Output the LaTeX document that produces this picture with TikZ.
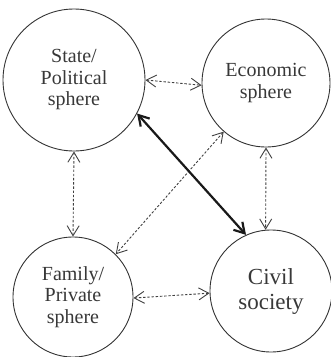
\documentclass[tikz,border=0pt]{standalone}
\usepackage{fontspec}
\setmainfont{Liberation Serif}
\usetikzlibrary{arrows.meta}
\begin{document}
\begin{tikzpicture}[x=1pt,y=-1pt,
  sphere/.style={circle,draw=black!80,line width=0.9pt,inner sep=0pt,
    align=center,text=black!78,font=\fontsize{20}{21.5}\selectfont},
  link/.style={draw=black!75,line width=0.9pt,dash pattern=on 2.4pt off 1.8pt,
    {Straight Barb[length=10pt,width=12pt,line width=0.9pt]}-{Straight Barb[length=10pt,width=12pt,line width=0.9pt]}},
  strong/.style={draw=black!90,line width=2.2pt,
    {Straight Barb[length=10pt,width=12pt]}-{Straight Barb[length=10pt,width=12pt]}}]
  \useasboundingbox (0,0) rectangle (331,357);
  % the four spheres
  \node[sphere,minimum size=142pt] (st) at (74,80) {State/\\Political\\sphere};
  \node[sphere,minimum size=128pt] (ec) at (266,83) {Economic\\sphere};
  \node[sphere,minimum size=120pt] (fa) at (73,297) {Family/\\Private\\sphere};
  \node[sphere,minimum size=122pt,font=\fontsize{23}{25}\selectfont] (cv) at (271,291) {Civil\\society};
  % relations between spheres
  \draw[link] (st.0) -- (ec.182);
  \draw[link] (st.-90) -- (fa.90);
  \draw[link] (ec.-90) -- (cv.95);
  \draw[link] (ec.-131) -- (fa.45);
  \draw[link] (fa.-1) -- (cv.182);
  \draw[strong] (st.-28) -- (cv.114);
\end{tikzpicture}
\end{document}
